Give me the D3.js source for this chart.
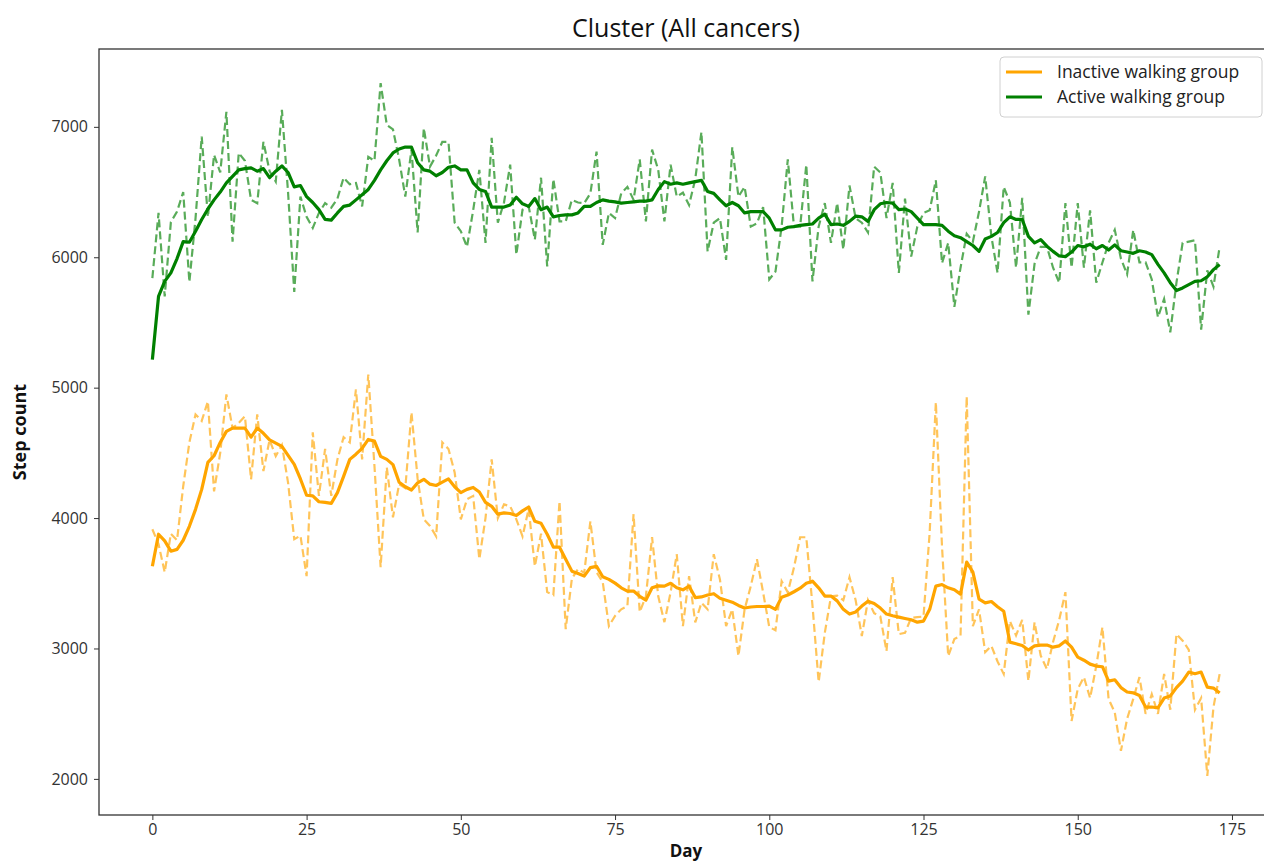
<!DOCTYPE html>
<html>
<head>
<meta charset="utf-8">
<script src="https://cdn.jsdelivr.net/npm/d3@7"></script>
<style>
  body { margin: 0; background: #fff; }
  text { font-family: "Open Sans", "Noto Sans", sans-serif; }
  .tick text { fill: #333; font-size: 16px; }
  .tick line, .domain { stroke: #333; }
</style>
</head>
<body>
<svg id="chart" width="1264" height="863"></svg>
<script>
// daily step counts (dashed) and smoothed trend (solid), day 0..173
var activeRaw = [5840,6340,5700,6270,6350,6500,5810,6300,6925,6310,6785,6650,7115,6120,6800,6740,6440,6415,6885,6660,
  6580,7130,6495,5735,6465,6310,6225,6340,6415,6380,6450,6610,6560,6570,6390,6770,6740,7335,7015,6980,
  6750,6465,6825,6190,6990,6695,6780,6885,6885,6265,6200,6080,6360,6670,6110,6915,6265,6420,6710,6020,
  6365,6390,6135,6610,5930,6600,6275,6275,6440,6420,6415,6490,6810,6095,6340,6300,6490,6540,6440,6750,
  6275,6825,6670,6275,6710,6465,6495,6400,6600,6960,6045,6265,6300,5980,6845,6465,6540,6235,6260,6385,
  5830,5890,6235,6750,6235,6235,6710,5815,6235,6415,6110,6415,6060,6550,6300,6265,6190,6695,6650,6300,
  6570,5880,6450,6005,6235,6340,6360,6590,5955,6110,5620,5920,6180,6120,6350,6620,6160,5880,6540,6420,
  5920,6455,5560,5950,6080,6080,5920,5805,6415,5920,6415,5920,6360,5805,5960,6110,6210,5990,5870,6210,
  5960,5960,5830,5540,5680,5425,5805,6110,6120,6130,5445,5900,5775,6080];
var activeSmooth = [5215,5700,5815,5880,5990,6120,6115,6200,6290,6370,6440,6500,6570,6620,6670,6680,6685,6660,6680,6610,
  6660,6700,6650,6540,6550,6465,6420,6365,6290,6285,6340,6390,6400,6440,6480,6520,6590,6670,6740,6800,
  6830,6845,6845,6725,6670,6660,6625,6650,6690,6700,6670,6670,6570,6520,6505,6385,6385,6385,6400,6460,
  6410,6390,6450,6365,6385,6310,6320,6325,6325,6340,6390,6390,6420,6440,6430,6425,6415,6420,6425,6430,
  6430,6440,6520,6580,6560,6570,6560,6570,6580,6590,6505,6490,6440,6395,6420,6395,6340,6350,6350,6350,
  6300,6210,6210,6230,6235,6245,6250,6255,6300,6330,6250,6255,6245,6275,6315,6310,6275,6365,6410,6420,
  6415,6365,6370,6350,6300,6250,6250,6250,6245,6200,6165,6150,6120,6090,6045,6140,6160,6190,6265,6310,
  6290,6290,6160,6110,6135,6085,6045,6010,6005,6040,6090,6080,6100,6065,6090,6055,6095,6050,6040,6030,
  6050,6040,6020,5945,5880,5805,5745,5765,5790,5815,5820,5850,5905,5945];
var inactiveRaw = [3914,3800,3585,3880,3830,4244,4580,4795,4745,4895,4205,4500,4948,4690,4730,4780,4297,4795,4360,4600,
  4475,4560,4270,3838,3865,3555,4657,4170,4530,4170,4450,4620,4580,4986,4450,5101,4400,3623,4390,4006,
  4260,4230,4810,4300,3990,3940,3860,4580,4530,4350,3990,4144,4170,3685,4000,4450,4000,4105,4090,3990,
  3860,4070,3630,3880,3432,3410,4130,3148,3535,3610,3580,3975,3585,3510,3172,3250,3300,3325,4030,3279,
  3400,3853,3400,3202,3430,3723,3171,3555,3200,3350,3300,3723,3530,3171,3300,2942,3300,3478,3685,3430,
  3164,3140,3516,3430,3620,3853,3853,3330,2743,3120,3400,3405,3370,3547,3370,3095,3370,3270,3245,2980,
  3547,3110,3120,3235,3240,3245,3891,4887,3780,2942,3072,3097,4933,3171,3300,2972,3020,2900,2804,3210,
  3100,3220,2750,3200,2945,2842,3050,3220,3432,2444,2690,2780,2620,2865,3164,2613,2510,2215,2460,2613,
  2780,2498,2650,2498,2804,2530,3110,3060,2990,2530,2620,2023,2550,2804];
var inactiveSmooth = [3631,3876,3825,3746,3760,3830,3937,4067,4220,4427,4478,4580,4665,4690,4690,4690,4620,4690,4650,4600,
  4575,4550,4480,4412,4300,4175,4170,4125,4120,4113,4195,4320,4450,4490,4535,4603,4590,4473,4450,4410,
  4275,4240,4215,4270,4297,4260,4250,4275,4300,4240,4195,4220,4235,4200,4120,4090,4030,4040,4035,4020,
  4055,4085,3975,3960,3876,3777,3777,3685,3593,3575,3555,3620,3630,3550,3530,3501,3465,3440,3440,3400,
  3371,3466,3480,3478,3500,3465,3450,3478,3390,3395,3410,3420,3385,3370,3355,3330,3310,3318,3322,3322,
  3325,3300,3393,3410,3435,3462,3500,3516,3465,3402,3402,3365,3300,3264,3280,3325,3363,3345,3310,3264,
  3251,3240,3230,3220,3202,3210,3300,3478,3490,3465,3450,3417,3662,3585,3378,3350,3360,3320,3286,3049,
  3036,3023,2988,3020,3026,3026,3010,3020,3057,3010,2934,2910,2880,2865,2860,2750,2760,2700,2666,2660,
  2640,2551,2551,2545,2620,2636,2700,2750,2819,2806,2819,2704,2696,2658];
var xTicks = [0, 25, 50, 75, 100, 125, 150, 175];
var yTicks = [2000, 3000, 4000, 5000, 6000, 7000];
var legendNames = ["Inactive walking group", "Active walking group"];

var orange = "#ffa500";
var green = "#008000";

var plotLeft = 99, plotRight = 1273, plotTop = 49, plotBottom = 815;
var svg = d3.select("#chart");

var x = d3.scaleLinear().domain([-8.65, 181.65]).range([plotLeft, plotRight]);
var y = d3.scaleLinear().domain([1723, 7597]).range([plotBottom, plotTop]);

var line = d3.line()
  .x(function(d, i) { return x(i); })
  .y(function(d) { return y(d); });

function drawSeries(raw, smooth, color) {
  svg.append("path")
     .attr("d", line(raw))
     .attr("fill", "none")
     .attr("stroke", color)
     .attr("stroke-opacity", 0.65)
     .attr("stroke-width", 2.2)
     .attr("stroke-dasharray", "8,4");
  svg.append("path")
     .attr("d", line(smooth))
     .attr("fill", "none")
     .attr("stroke", color)
     .attr("stroke-width", 3.2)
     .attr("stroke-linejoin", "round");
}

drawSeries(inactiveRaw, inactiveSmooth, orange);
drawSeries(activeRaw, activeSmooth, green);

// frame
svg.append("rect")
   .attr("x", plotLeft).attr("y", plotTop)
   .attr("width", plotRight - plotLeft).attr("height", plotBottom - plotTop)
   .attr("fill", "none")
   .attr("stroke", "#333")
   .attr("stroke-width", 1.3);

var xAxis = svg.append("g")
   .attr("transform", "translate(0," + plotBottom + ")")
   .call(d3.axisBottom(x).tickValues(xTicks).tickSize(5).tickPadding(4));
xAxis.select(".domain").remove();

var yAxis = svg.append("g")
   .attr("transform", "translate(" + plotLeft + ",0)")
   .call(d3.axisLeft(y).tickValues(yTicks).tickFormat(d3.format("d")).tickSize(5).tickPadding(6));
yAxis.select(".domain").remove();

svg.append("text")
   .attr("x", (plotLeft + plotRight) / 2)
   .attr("y", 37)
   .attr("text-anchor", "middle")
   .attr("font-size", 25)
   .attr("fill", "#111")
   .text("Cluster (All cancers)");

svg.append("text")
   .attr("x", (plotLeft + plotRight) / 2)
   .attr("y", 857)
   .attr("text-anchor", "middle")
   .attr("font-size", 17)
   .attr("font-weight", "bold")
   .attr("fill", "#111")
   .text("Day");

svg.append("text")
   .attr("transform", "translate(26," + (plotTop + plotBottom) / 2 + ") rotate(-90)")
   .attr("text-anchor", "middle")
   .attr("font-size", 18)
   .attr("font-weight", "bold")
   .attr("fill", "#111")
   .text("Step count");

// legend
var legend = svg.append("g").attr("transform", "translate(1000,57)");
legend.append("rect")
   .attr("width", 262).attr("height", 60)
   .attr("rx", 4)
   .attr("fill", "#fff")
   .attr("stroke", "#d0d0d0");
[orange, green].forEach(function(c, i) {
  legend.append("line")
     .attr("x1", 6).attr("x2", 42)
     .attr("y1", 15 + i * 25).attr("y2", 15 + i * 25)
     .attr("stroke", c)
     .attr("stroke-width", 3);
  legend.append("text")
     .attr("x", 57).attr("y", 21 + i * 25)
     .attr("font-size", 17.5)
     .attr("fill", "#222")
     .text(legendNames[i]);
});
</script>
</body>
</html>
